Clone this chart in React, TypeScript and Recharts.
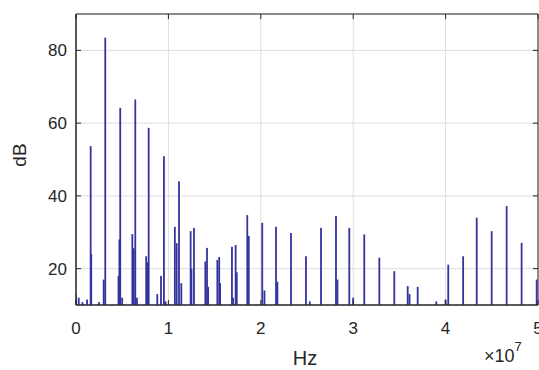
import React from 'react';
import { BarChart, Bar, XAxis, YAxis, CartesianGrid, ReferenceLine, ReferenceArea } from 'recharts';

// frequency in units of 1e7 Hz, level in dB
const freqs = [
  0.0, 0.03, 0.07, 0.12, 0.159, 0.165, 0.25, 0.30, 0.317, 0.46,
  0.47, 0.479, 0.50, 0.61, 0.625, 0.642, 0.66, 0.76, 0.775, 0.787,
  0.88, 0.92, 0.952, 0.97, 1.07, 1.09, 1.115, 1.14, 1.241, 1.25,
  1.277, 1.40, 1.418, 1.43, 1.53, 1.55, 1.56, 1.688, 1.70, 1.728,
  1.74, 1.854, 1.87, 2.016, 2.04, 2.165, 2.18, 2.327, 2.489, 2.53,
  2.652, 2.814, 2.83, 2.958, 3.0, 3.12, 3.283, 3.445, 3.59, 3.61,
  3.698, 3.90, 4.0, 4.029, 4.19, 4.337, 4.499, 4.661, 4.823, 4.986,
];
const levels = [
  13, 12, 10.8, 11.5, 53.7, 24, 10.8, 17, 83.5, 18,
  28, 64.2, 12, 29.5, 25.6, 66.5, 12, 23.4, 21.8, 58.7,
  13, 18, 50.9, 11, 31.5, 27, 44, 16, 30.3, 20,
  31.2, 22, 25.7, 15, 22.4, 23.2, 16, 26, 12, 26.5,
  19, 34.7, 29, 32.6, 14, 31.5, 16.4, 29.8, 23.4, 11,
  31.2, 34.5, 17, 31.2, 12, 29.4, 23, 19.3, 15.2, 13,
  15, 11, 11.5, 21.1, 23.4, 34, 30.3, 37.2, 27.1, 17,
];
const xTicks = [0, 1e7, 2e7, 3e7, 4e7, 5e7];
const yTicks = [20, 40, 60, 80];

const data = freqs.map((f, i) => ({ hz: f * 1e7, db: levels[i] }));

const AXIS = '#262626';
const STEM = '#34349f';
const FONT = '"Liberation Sans", Arial, sans-serif';
const X_MAX = 5e7;
const Y_MIN = 10;
const Y_MAX = 90;
// inward tick length, in data units (~5px)
const TICK_X = 0.055e7;
const TICK_Y = 1.4;

const BottomTick = (props: any) => {
  const { x, y, payload } = props;
  return (
    <g>
      <line x1={x} y1={y} x2={x} y2={y - 5} stroke={AXIS} />
      <text x={x} y={y + 29} textAnchor="middle" fill={AXIS} fontSize={17} fontFamily={FONT}>
        {payload.value / 1e7}
      </text>
    </g>
  );
};

const LeftTick = (props: any) => {
  const { x, y, payload } = props;
  return (
    <g>
      <line x1={x} y1={y} x2={x + 5} y2={y} stroke={AXIS} />
      <text x={x - 9} y={y + 6} textAnchor="end" fill={AXIS} fontSize={17} fontFamily={FONT}>
        {payload.value}
      </text>
    </g>
  );
};

// thin stem centred on the bar's slot
const Stem = (props: any) => {
  const { x, y, width, height } = props;
  if (height == null || height <= 0) return null;
  return <rect x={x + width / 2 - 0.9} y={y} width={1.8} height={height} fill={STEM} />;
};

export default function App() {
  return (
    <div style={{ position: 'absolute', left: 0, top: 0, width: 539, height: 370, background: '#fff' }}>
      <BarChart
        width={539}
        height={370}
        data={data}
        margin={{ top: 14, right: 1, bottom: 0, left: 0 }}
      >
        <CartesianGrid stroke="#dedede" />
        <XAxis
          dataKey="hz"
          type="number"
          domain={[0, X_MAX]}
          ticks={xTicks}
          interval={0}
          height={65}
          tickSize={0}
          tickMargin={0}
          tick={<BottomTick />}
          stroke={AXIS}
          allowDataOverflow
        />
        <YAxis
          type="number"
          domain={[Y_MIN, Y_MAX]}
          ticks={yTicks}
          interval={0}
          width={76}
          tickSize={0}
          tickMargin={0}
          tick={<LeftTick />}
          stroke={AXIS}
          allowDataOverflow
        />
        <Bar dataKey="db" fill={STEM} barSize={1} shape={<Stem />} isAnimationActive={false} />
        <ReferenceArea x1={0} x2={X_MAX} y1={Y_MIN} y2={Y_MAX} fill="none" stroke={AXIS} strokeWidth={1} />
        {xTicks.map((t) => (
          <ReferenceLine
            key={'t' + t}
            segment={[{ x: t, y: Y_MAX }, { x: t, y: Y_MAX - TICK_Y }]}
            stroke={AXIS}
          />
        ))}
        {yTicks.map((t) => (
          <ReferenceLine
            key={'r' + t}
            segment={[{ x: X_MAX, y: t }, { x: X_MAX - TICK_X, y: t }]}
            stroke={AXIS}
          />
        ))}
      </BarChart>
      <div
        style={{
          position: 'absolute', left: 20, top: 155, transform: 'translate(-50%, -50%) rotate(-90deg)',
          fontFamily: FONT, fontSize: 19, color: AXIS, whiteSpace: 'nowrap',
        }}
      >
        dB
      </div>
      <div
        style={{
          position: 'absolute', left: 305, top: 358, transform: 'translate(-50%, -50%)',
          fontFamily: FONT, fontSize: 20, color: AXIS, whiteSpace: 'nowrap',
        }}
      >
        Hz
      </div>
      <div
        style={{
          position: 'absolute', left: 484, top: 346, fontFamily: FONT, fontSize: 18,
          color: AXIS, whiteSpace: 'nowrap',
        }}
      >
        ×10<sup style={{ fontSize: 13, verticalAlign: 'top', position: 'relative', top: -7 }}>7</sup>
      </div>
    </div>
  );
}
